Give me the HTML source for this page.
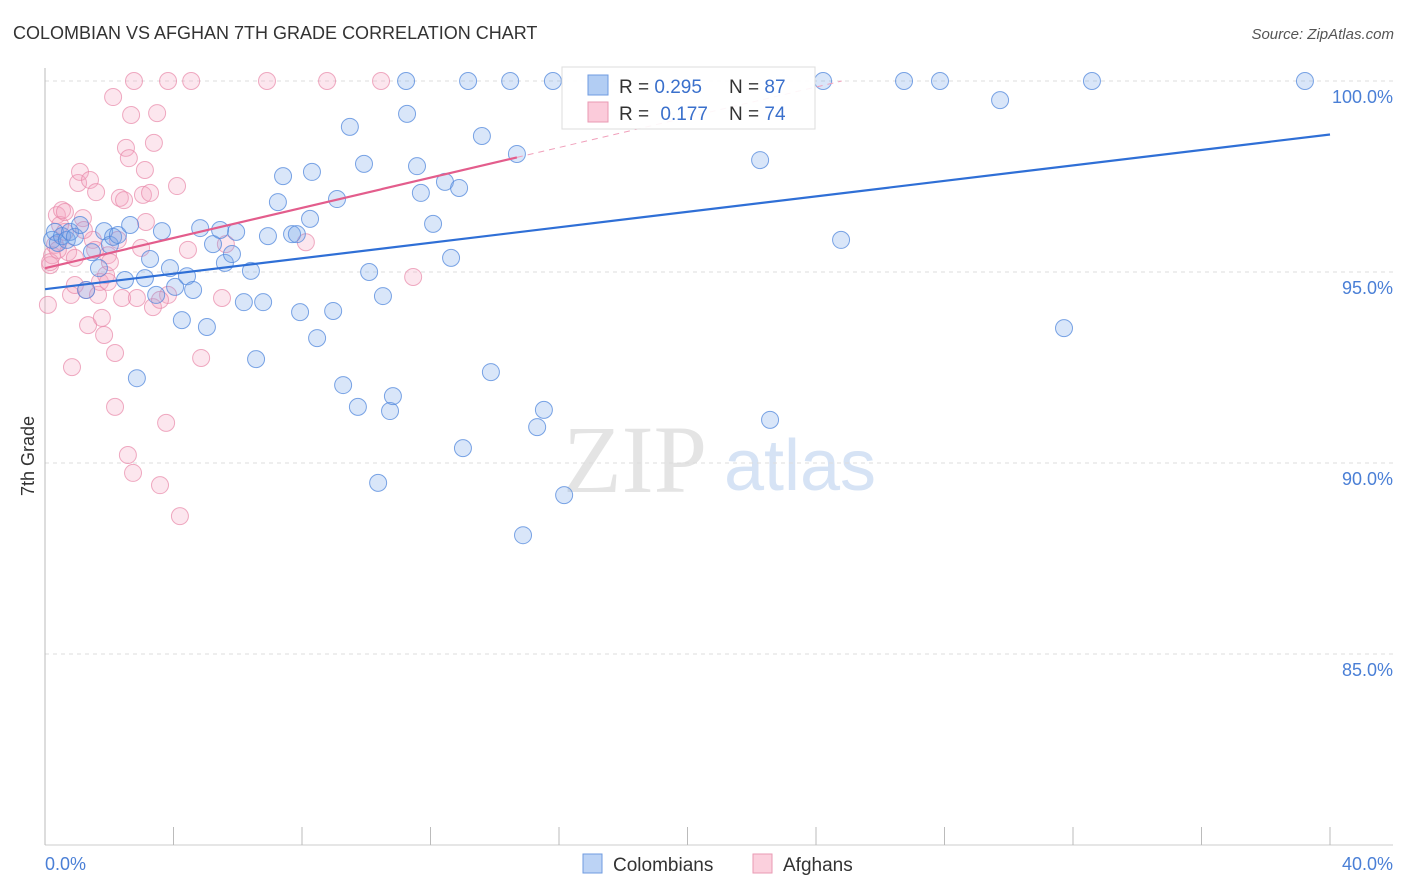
<!DOCTYPE html>
<html><head><meta charset="utf-8"><style>
body{margin:0;background:#fff;font-family:"Liberation Sans",sans-serif}
svg{display:block}
</style></head><body>
<svg id="chart" width="1406" height="892">
<text x="13" y="39" font-size="18" fill="#333">COLOMBIAN VS AFGHAN 7TH GRADE CORRELATION CHART</text>
<text x="1394" y="39" font-size="15" fill="#555" font-style="italic" text-anchor="end">Source: ZipAtlas.com</text>
<text x="635" y="492" font-size="96" fill="#e4e4e4" font-family="Liberation Serif, serif" text-anchor="middle">ZIP</text>
<text x="800" y="490" font-size="72" fill="#d6e3f5" text-anchor="middle">atlas</text>
<g id="grid"></g><g id="marks"></g>
<text transform="translate(34,456) rotate(-90)" font-size="18" fill="#333" text-anchor="middle">7th Grade</text>
<text x="45" y="870" font-size="18" fill="#4a7fd6">0.0%</text>
<text x="1393" y="870" font-size="18" fill="#4a7fd6" text-anchor="end">40.0%</text>
<g>
<rect x="583" y="854" width="19" height="19" fill="#bcd3f5" stroke="#6f9be0"/>
<text x="613" y="871" font-size="19" fill="#333">Colombians</text>
<rect x="753" y="854" width="19" height="19" fill="#fbd0dd" stroke="#e99ab3"/>
<text x="783" y="871" font-size="19" fill="#333">Afghans</text>
</g>
<g>
<rect x="562" y="67" width="253" height="62" fill="#fff" fill-opacity="0.9" stroke="#ddd"/>
<rect x="588" y="75" width="20" height="20" fill="#b2cdf3" stroke="#6f9be0"/>
<rect x="588" y="102" width="20" height="20" fill="#fbcbda" stroke="#e99ab3"/>
<text x="619" y="93" font-size="19" fill="#333">R = <tspan fill="#3a70cc">0.295</tspan></text>
<text x="729" y="93" font-size="19" fill="#333">N = <tspan fill="#3a70cc">87</tspan></text>
<text x="619" y="120" font-size="19" fill="#333">R = <tspan fill="#3a70cc" dx="6">0.177</tspan></text>
<text x="729" y="120" font-size="19" fill="#333">N = <tspan fill="#3a70cc">74</tspan></text>
</g>
</svg>
<script>
const yTicks=[100,95,90,85];
const yTickLabels=["100.0%","95.0%","90.0%","85.0%"];
const xTicks=[0,4,8,12,16,20,24,28,32,36,40];
const colX=[0.22,0.31,0.40,0.53,0.68,0.78,0.93,1.09,1.28,1.46,1.68,1.84,2.02,2.12,2.27,2.49,2.65,2.86,3.11,3.27,3.46,3.64,3.89,4.05,4.26,4.42,4.61,4.83,5.04,5.23,5.45,5.60,5.82,5.95,6.19,6.41,6.57,6.79,6.94,7.25,7.41,7.69,7.84,7.94,8.25,8.31,8.47,8.97,9.09,9.28,9.49,9.74,9.93,10.09,10.37,10.52,10.74,10.83,11.24,11.27,11.58,11.70,12.08,12.45,12.64,12.89,13.01,13.17,13.60,13.88,14.48,14.69,14.88,15.32,15.53,15.81,16.16,22.26,22.57,24.22,24.78,26.74,27.86,29.73,31.72,32.59,39.22];
const colY=[95.84,96.05,95.76,95.94,95.84,96.05,95.92,96.23,94.53,95.52,95.10,96.07,95.71,95.92,95.97,94.79,96.23,92.22,94.84,95.34,94.40,96.07,95.10,94.61,93.74,94.89,94.53,96.15,93.56,95.73,96.10,95.24,95.47,96.05,94.21,95.03,92.72,94.21,95.94,96.83,97.51,95.99,95.99,93.95,96.39,97.62,93.27,93.98,96.91,92.04,98.80,91.47,97.83,95.00,89.48,94.37,91.36,91.75,100,99.14,97.77,97.07,96.26,97.36,95.37,97.20,90.39,100,98.56,92.38,100,98.09,88.11,90.94,91.39,100,89.16,97.93,91.13,100,95.84,100,100,99.50,93.53,100,100];
const afgX=[0.09,0.16,0.22,0.31,0.37,0.47,0.53,0.62,0.72,0.81,0.84,0.93,0.93,1.03,1.09,1.18,1.28,1.34,1.40,1.49,1.59,1.65,1.71,1.77,1.84,1.90,1.96,2.02,2.12,2.18,2.18,2.33,2.40,2.46,2.52,2.58,2.61,2.68,2.74,2.77,2.86,2.99,3.05,3.11,3.14,3.27,3.36,3.39,3.49,3.58,3.77,3.83,3.83,4.11,4.20,4.45,4.55,4.86,5.51,5.63,6.91,8.12,8.78,10.46,11.46,0.16,0.40,0.62,1.56,2.27,1.21,3.58,1.96];
const afgY=[94.14,95.18,95.44,95.71,96.49,96.23,96.62,96.57,95.52,94.40,92.51,95.37,94.66,97.33,97.62,96.41,94.53,93.61,97.41,95.84,97.09,94.40,94.74,93.80,93.35,94.92,95.44,95.26,99.58,92.88,91.47,96.94,94.32,96.88,98.25,90.21,97.98,99.11,89.74,100,94.32,95.63,97.02,97.67,96.31,97.07,94.08,98.38,99.16,89.42,91.05,100,94.40,97.25,88.61,95.58,100,92.75,94.32,95.73,100,95.78,100,100,94.87,95.26,95.58,96.05,95.58,95.84,96.10,94.27,94.74];
const colLine=[[0,94.55],[40,98.6]];
const afgLine=[[0,95.1],[14.69,98.0]];
const afgDash=[[14.69,98.0],[24.8,100]];
const NS="http://www.w3.org/2000/svg";
const X0=45,X1=1330,YT=81,YB=845;
const sx=v=>X0+(v/40)*(X1-X0);
const sy=v=>YT+(100-v)/20*(YB-YT);
const grid=document.getElementById('grid'),marks=document.getElementById('marks');
function mk(tag,attrs,parent){const e=document.createElementNS(NS,tag);for(const k in attrs)e.setAttribute(k,attrs[k]);parent.appendChild(e);return e;}
yTicks.forEach((t,i)=>{
 const l=mk('line',{x1:X0,x2:1393,y1:sy(t),y2:sy(t),stroke:'#ddd','stroke-dasharray':'4,4'},grid);
 
 
 const tx=mk('text',{x:1393,y:sy(t)+22,'font-size':18,fill:'#4a7fd6','text-anchor':'end'},grid);
 tx.textContent=yTickLabels[i];
 
 
});
const ax=mk('line',{x1:X0,x2:X0,y1:68,y2:YB,stroke:'#bbb'},grid);


const bx=mk('line',{x1:X0,x2:1393,y1:YB,y2:YB,stroke:'#ccc'},grid);


xTicks.forEach(t=>{
 const l=mk('line',{x1:sx(t),x2:sx(t),y1:827,y2:YB,stroke:'#bbb'},grid);
 
 
});
function pts(xs,ys,fill,stroke,name){xs.forEach((x,i)=>{
 const c=mk('circle',{cx:sx(x),cy:sy(ys[i]),r:8.5,fill:fill,stroke:stroke,'stroke-width':1},marks);
 
 
});}
pts(afgX,afgY,'rgba(245,165,195,0.28)','rgba(232,135,168,0.7)','afghan-point');
pts(colX,colY,'rgba(120,165,235,0.28)','rgba(80,135,220,0.75)','colombian-point');
function line(p,stroke,w,dash,name){
 const l=mk('line',{x1:sx(p[0][0]),y1:sy(p[0][1]),x2:sx(p[1][0]),y2:sy(p[1][1]),stroke:stroke,'stroke-width':w},marks);
 if(dash)l.setAttribute('stroke-dasharray',dash);
 
 
}
line(colLine,'#2f6fd6',2.2,null,'colombian-trendline');
line(afgLine,'#e35d8c',2.2,null,'afghan-trendline');
line(afgDash,'#f0a0bb',1,'6,5','afghan-trendline-extension');
</script>
</body></html>
